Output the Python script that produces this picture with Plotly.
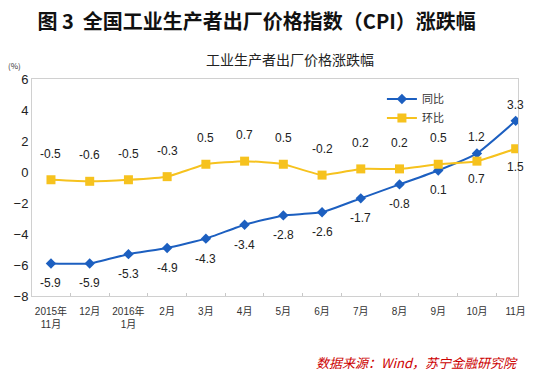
import plotly.graph_objects as go

categories = ["2015年<br>11月", "12月", "2016年<br>1月", "2月", "3月", "4月", "5月",
              "6月", "7月", "8月", "9月", "10月", "11月"]
yoy = [-5.9, -5.9, -5.3, -4.9, -4.3, -3.4, -2.8, -2.6, -1.7, -0.8, 0.1, 1.2, 3.3]
mom = [-0.5, -0.6, -0.5, -0.3, 0.5, 0.7, 0.5, -0.2, 0.2, 0.2, 0.5, 0.7, 1.5]
yoy_label_above = [False] * 11 + [True, True]
mom_label_above = [True] * 11 + [False, False]

BLUE = "#1C5FC0"
YELLOW = "#F6C21E"
CJK = "Noto Sans CJK SC, sans-serif"

fig = go.Figure()
fig.add_trace(go.Scatter(
    x=categories, y=yoy, name="同比", mode="lines+markers",
    line=dict(color=BLUE, width=2, shape="spline", smoothing=0.4),
    marker=dict(symbol="diamond", size=8, color=BLUE),
))
fig.add_trace(go.Scatter(
    x=categories, y=mom, name="环比", mode="lines+markers",
    line=dict(color=YELLOW, width=2, shape="spline", smoothing=0.4),
    marker=dict(symbol="square", size=9, color=YELLOW),
))

annotations = []
for c, v, up in zip(categories, yoy, yoy_label_above):
    annotations.append(dict(x=c, y=v, xref="x", yref="y", text=f"{v:g}", showarrow=False,
                            yshift=16 if up else -20,
                            font=dict(family="Arial, Liberation Sans", size=12, color="#222")))
for c, v, up in zip(categories, mom, mom_label_above):
    annotations.append(dict(x=c, y=v, xref="x", yref="y", text=f"{v:g}", showarrow=False,
                            yshift=26 if up else -18,
                            font=dict(family="Arial, Liberation Sans", size=12, color="#222")))

annotations.append(dict(x=0.53, y=1.035, xref="paper", yref="paper", text="工业生产者出厂价格涨跌幅",
                        showarrow=False, yanchor="bottom",
                        font=dict(family=CJK, size=14, color="#222")))
annotations.append(dict(x=-0.035, y=1.06, xref="paper", yref="paper", text="(%)",
                        showarrow=False, xanchor="center", yanchor="middle",
                        font=dict(family=CJK, size=8, color="#333")))
annotations.append(dict(x=1.004, y=-0.305, xref="paper", yref="paper",
                        text="<i>数据来源：Wind，苏宁金融研究院</i>",
                        showarrow=False, xanchor="right", yanchor="middle",
                        font=dict(family=CJK, size=13, color="#CC0000")))

fig.update_layout(
    width=546, height=372,
    margin=dict(l=32, r=28, t=79, b=76, autoexpand=False),
    paper_bgcolor="white", plot_bgcolor="white",
    title=dict(text="<b>图 3  全国工业生产者出厂价格指数（CPI）涨跌幅</b>",
               x=0.47, xanchor="center", y=0.94, yanchor="middle",
               font=dict(family=CJK, size=20, color="#111")),
    showlegend=True,
    legend=dict(x=0.72, y=0.975, xanchor="left", yanchor="top",
                bgcolor="rgba(0,0,0,0)", font=dict(family=CJK, size=11, color="#333"),
                itemwidth=30, tracegroupgap=2),
    annotations=annotations,
)
fig.update_xaxes(
    type="category", range=[-0.49, 12.06], automargin=False,
    showline=True, linecolor="#D0D0D0", linewidth=1, mirror=True,
    showgrid=False, zeroline=False,
    ticks="inside", ticklen=3, tickcolor="#C8C8C8", tickson="boundaries",
    tickfont=dict(family="Liberation Sans, Noto Sans CJK SC", size=10, color="#333"),
    tickangle=0, ticklabelstandoff=6,
)
fig.update_yaxes(
    range=[-8, 6], dtick=2, automargin=False,
    showline=True, linecolor="#D0D0D0", linewidth=1, mirror=True,
    showgrid=False, zeroline=False, ticks="",
    tickfont=dict(family="Arial, Liberation Sans", size=13, color="#222"),
)

fig.write_html("out.html", config={"displayModeBar": False},
               post_script="document.body.style.margin='0';")
